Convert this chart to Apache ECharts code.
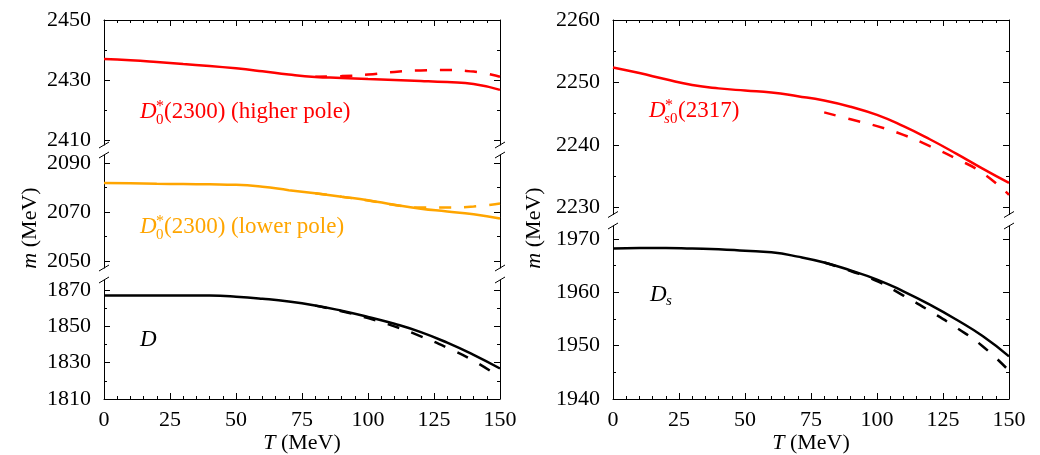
<!DOCTYPE html>
<html>
<head>
<meta charset="utf-8">
<script src="https://cdn.jsdelivr.net/npm/echarts@6/dist/echarts.min.js"></script>
<style>html,body{margin:0;padding:0;background:#fff;}</style>
</head>
<body>
<div id="chart" style="width:1040px;height:455px;"></div>
<script>
// temperature grid (MeV)
var temps = [0, 10, 20, 30, 40, 50, 60, 70, 80, 90, 100, 110, 120, 130, 140, 150];
var tempsHot = [80, 90, 100, 110, 120, 130, 140, 150];

// left panel: D0*(2300) poles and D
var higherPole = [2437.0, 2436.6, 2436.0, 2435.3, 2434.7, 2433.9, 2432.9, 2431.8, 2431.0, 2430.7, 2430.3, 2430.0, 2429.7, 2429.3, 2428.7, 2426.7];
var higherPoleHot = [2431.1, 2431.3, 2431.8, 2432.7, 2433.2, 2433.3, 2432.8, 2431.1];
var lowerPole = [2081.9, 2081.8, 2081.6, 2081.5, 2081.4, 2081.2, 2080.4, 2079.0, 2077.7, 2076.3, 2074.9, 2073.0, 2071.4, 2070.3, 2069.1, 2067.4];
var lowerPoleHot = [2077.7, 2076.3, 2074.8, 2072.9, 2071.9, 2071.9, 2072.3, 2073.5];
var dMeson = [1867.0, 1867.0, 1867.0, 1867.0, 1866.9, 1866.3, 1865.2, 1863.7, 1861.5, 1858.6, 1855.2, 1851.4, 1846.8, 1841.0, 1834.3, 1826.8];
var dMesonHot = [1861.4, 1858.3, 1854.5, 1850.0, 1844.5, 1838.2, 1831.0, 1822.0];

// right panel: Ds0*(2317) and Ds
var ds2317 = [2252.4, 2251.5, 2250.5, 2249.6, 2249.05, 2248.7, 2248.4, 2247.8, 2247.1, 2246.1, 2244.8, 2243.0, 2240.9, 2238.6, 2236.2, 2233.9];
var ds2317Hot = [2245.2, 2244.1, 2243.0, 2241.6, 2239.8, 2237.8, 2235.5, 2232.0];
var dsMeson = [1968.2, 1968.3, 1968.3, 1968.2, 1968.1, 1967.8, 1967.5, 1966.7, 1965.6, 1964.1, 1962.4, 1960.2, 1957.7, 1954.9, 1951.8, 1948.0];
var dsMesonHot = [1965.6, 1964.0, 1962.1, 1959.4, 1956.5, 1953.4, 1949.9, 1945.3];

// tick labels
var tTicks = [0, 25, 50, 75, 100, 125, 150];
var higherTicks = [2410, 2430, 2450];
var higherMinor = [2420, 2440];
var lowerTicks = [2050, 2070, 2090];
var lowerMinor = [2060, 2080];
var dTicks = [1810, 1830, 1850, 1870];
var dMinor = [1820, 1840, 1860];
var ds2317Ticks = [2230, 2240, 2250, 2260];
var ds2317Minor = [2235, 2245, 2255];
var dsTicks = [1940, 1950, 1960, 1970];
var dsMinor = [1945, 1955, 1965];

var FONT = '"Liberation Serif", "Times New Roman", serif';
var RED = '#ff0000';
var ORANGE = '#ffa500';

// broken-axis layout: each column is a stack of panels
var columns = [
  { left: 104, width: 396, panels: [
    { top: 20, height: 125, min: 2408.33, max: 2450, ticks: higherTicks, minor: higherMinor },
    { top: 155, height: 113, min: 2047.13, max: 2093.4, ticks: lowerTicks, minor: lowerMinor },
    { top: 280, height: 119, min: 1810, max: 1875.5, ticks: dTicks, minor: dMinor }
  ]},
  { left: 613, width: 396, panels: [
    { top: 20, height: 194.5, min: 2228.85, max: 2260, ticks: ds2317Ticks, minor: ds2317Minor },
    { top: 226, height: 173, min: 1940, max: 1972.44, ticks: dsTicks, minor: dsMinor }
  ]}
];

var axisLineStyle = { show: true, onZero: false, lineStyle: { color: '#000', width: 1 } };
var grids = [], xAxes = [], yAxes = [];
var overlay = [];

columns.forEach(function (col) {
  col.panels.forEach(function (p, k) {
    var first = k === 0, last = k === col.panels.length - 1;
    var gi = grids.length;
    grids.push({ left: col.left, width: col.width, top: p.top, height: p.height });
    overlay.push({ col: col, p: p });

    var xa = {
      type: 'value', gridIndex: gi, min: 0, max: 150, interval: 25,
      position: first ? 'top' : 'bottom',
      show: first || last,
      axisLine: axisLineStyle,
      axisTick: { show: true, inside: true, length: 6, lineStyle: { color: '#000' } },
      minorTick: { show: true, splitNumber: 5, length: 3, lineStyle: { color: '#000' } },
      axisLabel: { show: false },
      splitLine: { show: false }
    };
    if (last) {
      xa.axisLabel = {
        show: true, customValues: tTicks, margin: 10, color: '#000',
        fontFamily: FONT, fontSize: 22,
        formatter: function (v) { return String(v); }
      };
      xa.name = '{i|T} (MeV)';
      xa.nameLocation = 'middle';
      xa.nameGap = 33;
      xa.nameTextStyle = {
        color: '#000', fontFamily: FONT, fontSize: 22,
        rich: { i: { fontStyle: 'italic', fontFamily: FONT, fontSize: 22, color: '#000' } }
      };
    }
    xAxes.push(xa);

    ['left', 'right'].forEach(function (side) {
      yAxes.push({
        type: 'value', gridIndex: gi, position: side, min: p.min, max: p.max,
        axisLine: axisLineStyle,
        axisTick: { show: true, inside: true, length: 6, customValues: p.ticks, lineStyle: { color: '#000' } },
        axisLabel: {
          show: side === 'left', customValues: p.ticks, margin: 13, color: '#000',
          fontFamily: FONT, fontSize: 22,
          formatter: function (v) { return String(v); }
        },
        splitLine: { show: false }
      });
    });
  });
});

// second set of grids on top, carrying only the short (minor) y ticks
overlay.forEach(function (o) {
  var gi = grids.length;
  grids.push({ left: o.col.left, width: o.col.width, top: o.p.top, height: o.p.height });
  xAxes.push({ type: 'value', gridIndex: gi, min: 0, max: 150, show: false });
  ['left', 'right'].forEach(function (side) {
    yAxes.push({
      type: 'value', gridIndex: gi, position: side, min: o.p.min, max: o.p.max,
      axisLine: { show: false, onZero: false },
      axisTick: { show: true, inside: true, length: 3, customValues: o.p.minor, lineStyle: { color: '#000' } },
      axisLabel: { show: false },
      splitLine: { show: false }
    });
  });
});

function pairs(xs, ys) {
  return xs.map(function (x, i) { return [x, ys[i]]; });
}

function curve(gridIndex, xs, ys, color, dashed) {
  return {
    type: 'line',
    xAxisIndex: gridIndex,
    yAxisIndex: gridIndex * 2,
    data: pairs(xs, ys),
    smooth: true,
    symbol: 'none',
    silent: true,
    z: dashed ? 3 : 2,
    lineStyle: { color: color, width: 2.5, type: dashed ? [12, 13] : 'solid' }
  };
}

var series = [
  curve(0, temps, higherPole, RED, false),
  curve(0, tempsHot, higherPoleHot, RED, true),
  curve(1, temps, lowerPole, ORANGE, false),
  curve(1, tempsHot, lowerPoleHot, ORANGE, true),
  curve(2, temps, dMeson, '#000', false),
  curve(2, tempsHot, dMesonHot, '#000', true),
  curve(3, temps, ds2317, RED, false),
  curve(3, tempsHot, ds2317Hot, RED, true),
  curve(4, temps, dsMeson, '#000', false),
  curve(4, tempsHot, dsMesonHot, '#000', true)
];

// "//" marks where an axis is broken
var graphics = [];
columns.forEach(function (col) {
  for (var k = 0; k < col.panels.length - 1; k++) {
    var ys = [col.panels[k].top + col.panels[k].height, col.panels[k + 1].top];
    [col.left, col.left + col.width].forEach(function (x) {
      ys.forEach(function (y) {
        graphics.push({
          type: 'line', silent: true,
          shape: { x1: x - 5, y1: y + 3, x2: x + 5, y2: y - 3 },
          style: { stroke: '#000', lineWidth: 1 }
        });
      });
    });
  }
});

function it(size) { return 'italic ' + size + 'px ' + FONT; }
function rm(size) { return size + 'px ' + FONT; }

function mathLabel(x, y, color, parts) {
  return {
    type: 'group', x: x, y: y, silent: true,
    children: parts.map(function (p) {
      return { type: 'text', x: p[0], y: p[1],
        style: { text: p[2], font: p[3], fill: color, align: 'left', verticalAlign: 'middle' } };
    })
  };
}

graphics.push(mathLabel(140, 112, RED, [
  [0, 0, 'D', it(23)], [16, -5, '*', rm(16)], [16, 8, '0', rm(15)], [24, 0, '(2300) (higher pole)', rm(23)]
]));
graphics.push(mathLabel(140, 227, ORANGE, [
  [0, 0, 'D', it(23)], [16, -5, '*', rm(16)], [16, 8, '0', rm(15)], [24, 0, '(2300) (lower pole)', rm(23)]
]));
graphics.push(mathLabel(140, 340, '#000', [[0, 0, 'D', it(23)]]));
graphics.push(mathLabel(649, 111, RED, [
  [0, 0, 'D', it(23)], [16, -5, '*', rm(16)], [15, 8, 's', it(15)], [21, 8, '0', rm(15)], [29, 0, '(2317)', rm(23)]
]));
graphics.push(mathLabel(650, 295, '#000', [[0, 0, 'D', it(23)], [16, 6, 's', it(15)]]));

[30, 534].forEach(function (x) {
  graphics.push({
    type: 'text', x: x, y: 228, rotation: Math.PI / 2, silent: true,
    style: {
      text: '{i|m} (MeV)', fill: '#000', font: rm(22), align: 'center', verticalAlign: 'middle',
      rich: { i: { fontStyle: 'italic', fontFamily: FONT, fontSize: 22, fill: '#000' } }
    }
  });
});

var myChart = echarts.init(document.getElementById('chart'));
var option = {
  animation: false,
  backgroundColor: '#fff',
  grid: grids,
  xAxis: xAxes,
  yAxis: yAxes,
  series: series,
  graphic: graphics
};
myChart.setOption(option);
</script>
</body>
</html>
